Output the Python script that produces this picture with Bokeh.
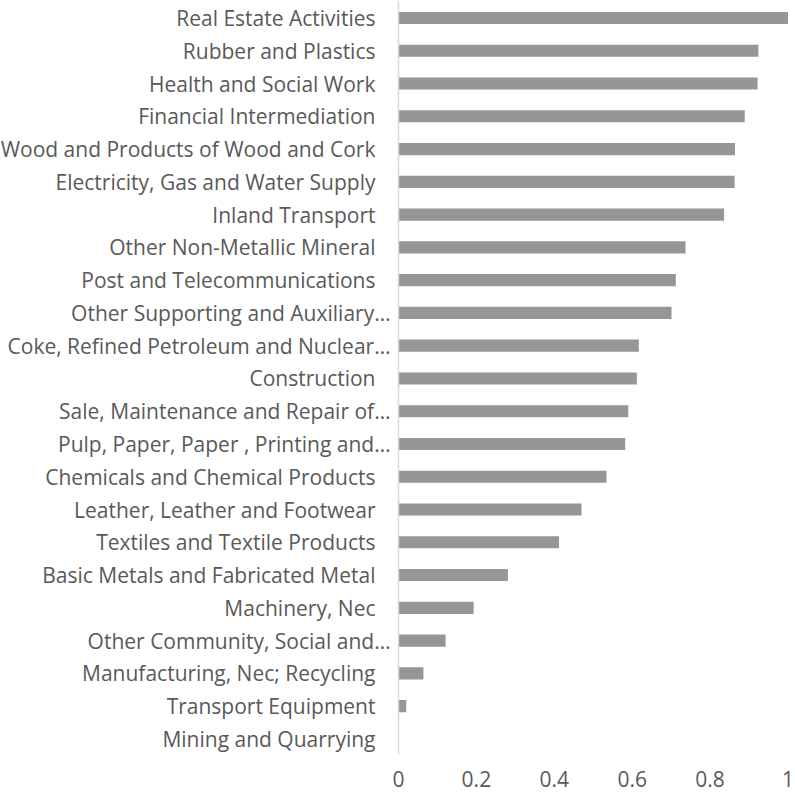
from bokeh.plotting import figure
from bokeh.models import ColumnDataSource, Range1d, FixedTicker, CustomJSTickFormatter, Span
from bokeh.core.properties import value
from bokeh.embed import file_html
from bokeh.resources import INLINE

categories = [
    "Real Estate Activities",
    "Rubber and Plastics",
    "Health and Social Work",
    "Financial Intermediation",
    "Wood and Products of Wood and Cork",
    "Electricity, Gas and Water Supply",
    "Inland Transport",
    "Other Non-Metallic Mineral",
    "Post and Telecommunications",
    "Other Supporting and Auxiliary\u2026",
    "Coke, Refined Petroleum and Nuclear\u2026",
    "Construction",
    "Sale, Maintenance and Repair of\u2026",
    "Pulp, Paper, Paper , Printing and\u2026",
    "Chemicals and Chemical Products",
    "Leather, Leather and Footwear",
    "Textiles and Textile Products",
    "Basic Metals and Fabricated Metal",
    "Machinery, Nec",
    "Other Community, Social and\u2026",
    "Manufacturing, Nec; Recycling",
    "Transport Equipment",
    "Mining and Quarrying",
]
values = [1.0, 0.924, 0.922, 0.889, 0.864, 0.863, 0.836, 0.737, 0.712, 0.701,
          0.617, 0.612, 0.590, 0.582, 0.534, 0.470, 0.412, 0.281, 0.193, 0.121,
          0.064, 0.020, 0.0]
x_ticks = [0, 0.2, 0.4, 0.6, 0.8, 1]

n = len(categories)
pos = [n - 1 - i for i in range(n)]
offsets = [-8 if c.endswith("\u2026") else -23 for c in categories]

src = ColumnDataSource(dict(cat=categories, val=values, pos=pos, off=offsets))

W, H = 795, 796
p = figure(width=W, height=H, output_backend="svg", toolbar_location=None,
           x_range=Range1d(-1.0218, 1.0193), y_range=Range1d(-0.476, 22.534),
           min_border=0, min_border_bottom=42, tools="")
p.outline_line_color = None
p.grid.visible = False
p.yaxis.visible = False
p.background_fill_color = "white"
p.border_fill_color = "white"

p.hbar(y="pos", left=0, right="val", height=0.37, source=src,
       fill_color="#969696", line_color=None)

p.add_layout(Span(location=0, dimension="height", line_color="#d9d9d9", line_width=1.5))

p.text(x=0, y="pos", text="cat", x_offset="off", source=src,
       text_align="right", text_baseline="middle",
       text_font=value("Open Sans"), text_font_size=value("21px"),
       text_color="#595959")

xa = p.xaxis[0]
xa.ticker = FixedTicker(ticks=x_ticks)
xa.formatter = CustomJSTickFormatter(code="return tick.toString();")
xa.axis_line_color = None
xa.major_tick_line_color = None
xa.minor_tick_line_color = None
xa.major_label_standoff = 10
xa.major_label_text_font = "Open Sans"
xa.major_label_text_font_size = "21px"
xa.major_label_text_color = "#595959"

open("out.html", "w").write(file_html(p, INLINE))
